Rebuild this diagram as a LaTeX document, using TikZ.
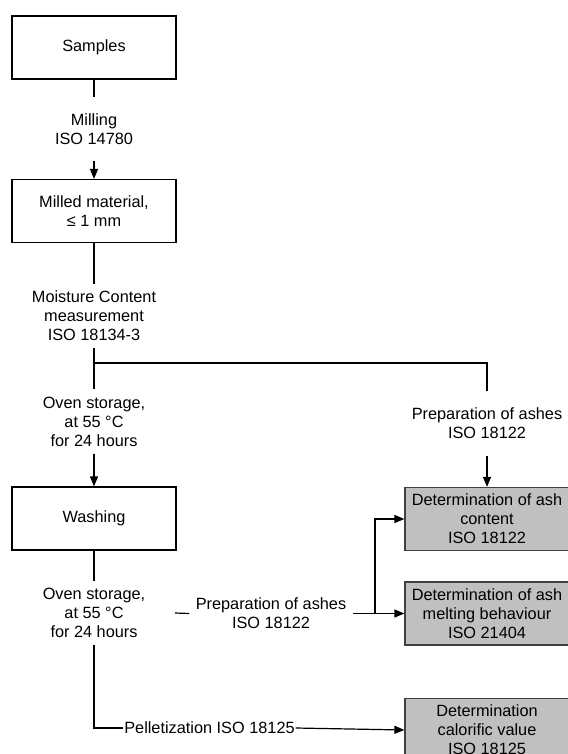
\documentclass[tikz,border=0pt]{standalone}
\usepackage{fontspec}
\setmainfont{Liberation Sans}
\usetikzlibrary{arrows.meta}
\definecolor{boxgrey}{RGB}{192,192,192}
\definecolor{boxedge}{RGB}{64,64,64}
\begin{document}
\begin{tikzpicture}[x=1pt,y=-1pt,
  font=\fontsize{16.3}{19}\selectfont,
  line width=1.2pt,
  every node/.style={align=center},
  stepbox/.style={draw=black,line width=1.2pt,fill=white,minimum width=164pt,minimum height=63pt,inner sep=0pt},
  resultbox/.style={draw=boxedge,line width=1.2pt,fill=boxgrey,minimum width=164pt,minimum height=63pt,inner sep=0pt},
  lbl/.style={inner sep=0pt},
  arr/.style={-{Triangle[length=10pt,width=8pt]}}]
\useasboundingbox (0,0) rectangle (567,754);

% process steps on the left
\node[stepbox] (samples) at (94,47.5) {Samples};
\node[stepbox] (milled)  at (94,211)  {Milled material,\\ ≤ 1 mm};
\node[stepbox] (washing) at (94,518.5) {Washing};

% analyses on the right
\node[resultbox] (ashcont) at (487,519)   {Determination of ash\\content\\ISO 18122};
\node[resultbox] (ashmelt) at (487,613.5) {Determination of ash\\melting behaviour\\ISO 21404};
\node[resultbox] (calor)   at (487,730)   {Determination\\calorific value\\ISO 18125};

% connector labels
\node[lbl,minimum height=62pt] (milling)  at (94,129)   {Milling\\ISO 14780};
\node[lbl,minimum height=62pt] (moisture) at (94,316)   {Moisture Content\\measurement\\ISO 18134-3};
\node[lbl,minimum height=63pt] (oven1)    at (94,421.5) {Oven storage,\\at 55 °C\\for 24 hours};
\node[lbl,minimum height=63pt] (prep1)    at (487,423.5) {Preparation of ashes\\ISO 18122};
\node[lbl,minimum height=62pt] (oven2)    at (94,613)   {Oven storage,\\at 55 °C\\for 24 hours};
\node[lbl,minimum width=162pt] (prep2)    at (271,613.5) {Preparation of ashes\\ISO 18122};
\node[lbl,minimum width=171pt] (pellet)   at (209.5,728) {Pelletization ISO 18125};

\coordinate (branch) at (94,363);
\coordinate (prepstart) at (175,613);
\coordinate (fork) at (375,613);
\coordinate (pelturn) at (94,728);

% connectors
\draw (samples.south) -- (milling.north);
\draw[arr] (milling.south) -- (milled.north);
\draw (milled.south) -- (moisture.north);
\draw (moisture.south) -- (oven1.north);
\draw (branch) -| (prep1.north);
\draw[arr] (prep1.south) -- (ashcont.north);
\draw[arr] (oven1.south) -- (washing.north);
\draw (washing.south) -- (oven2.north);
\draw (prepstart) -- (prep2.west);
\draw[arr] (prep2.east) -- (ashmelt.west);
\draw[arr] (fork) |- (ashcont.west);
\draw (oven2.south) -- (pelturn) -- (pellet.west);
\draw[arr] (pellet.east) -- (calor.west);
\end{tikzpicture}
\end{document}
